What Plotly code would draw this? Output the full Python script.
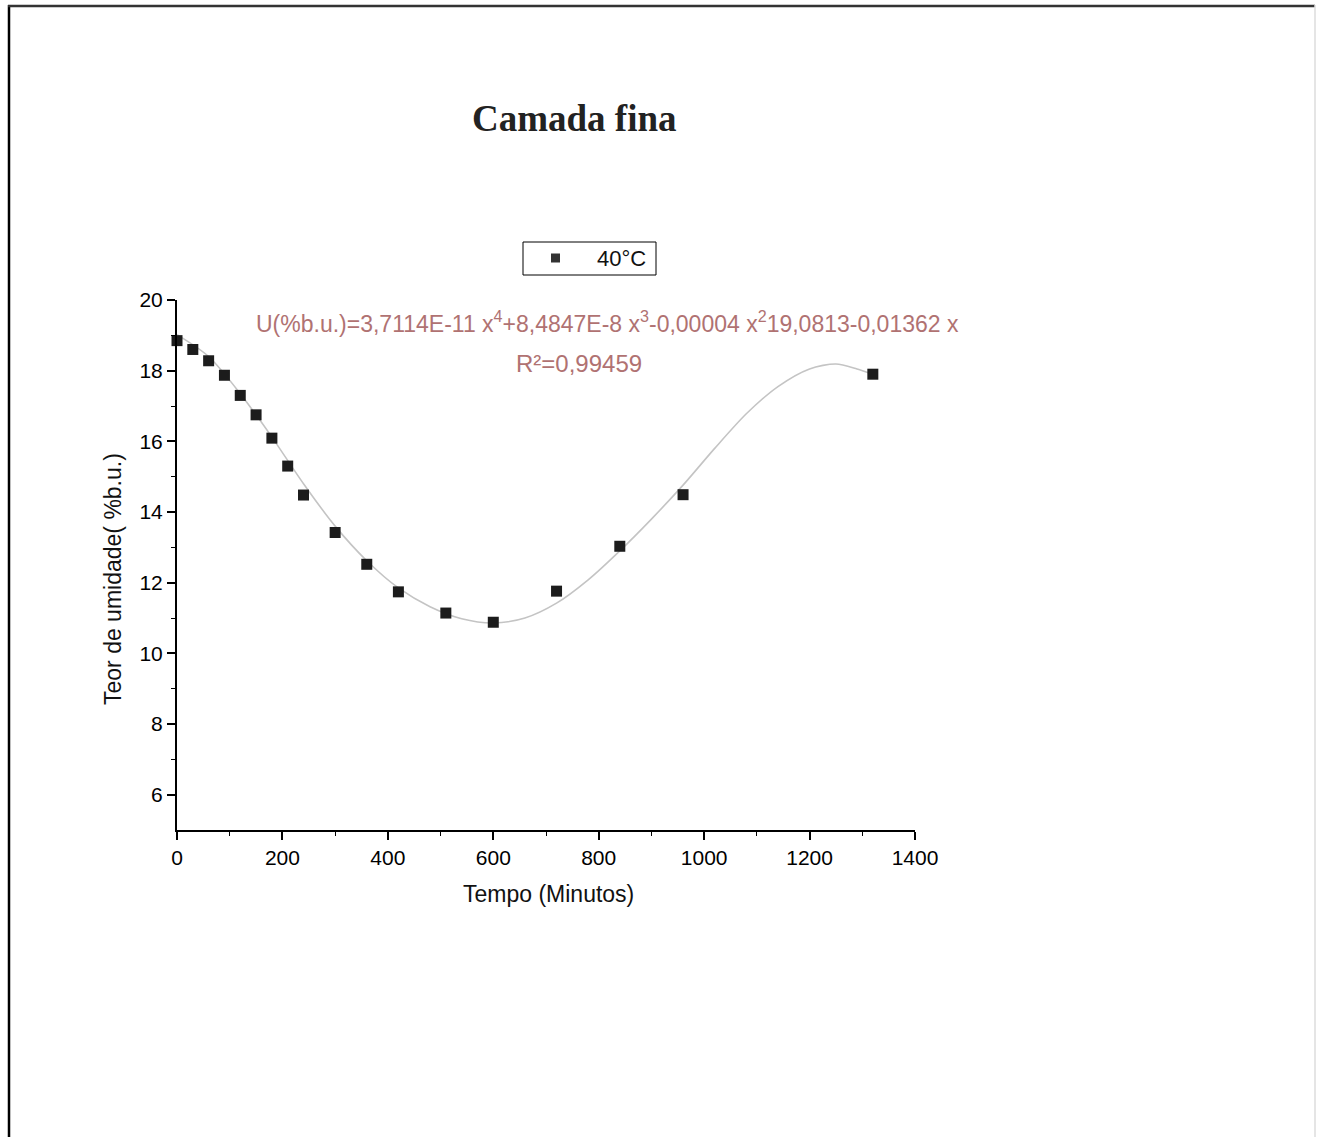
import plotly.graph_objects as go

# Measured data (40°C)
tempo_min = [0, 30, 60, 90, 120, 150, 180, 210, 240, 300, 360, 420, 510, 600, 720, 840, 960, 1320]
teor_umidade = [18.85, 18.60, 18.28, 17.87, 17.30, 16.75, 16.09, 15.30, 14.48, 13.42, 12.52,
                11.74, 11.14, 10.88, 11.76, 13.03, 14.49, 17.90]

# Fitted curve
curva_x = [0, 60, 120, 180, 240, 300, 360, 420, 480, 540, 600, 660, 720, 780, 840, 900, 960,
           1020, 1080, 1140, 1200, 1250, 1290, 1320]
curva_y = [19.02, 18.40, 17.35, 16.12, 14.80, 13.60, 12.62, 11.85, 11.32, 10.98, 10.86, 11.00,
           11.42, 12.08, 12.90, 13.80, 14.76, 15.80, 16.78, 17.55, 18.05, 18.19, 18.05, 17.90]

x_ticks = [0, 200, 400, 600, 800, 1000, 1200, 1400]
y_ticks = [6, 8, 10, 12, 14, 16, 18, 20]
legend_label = "40°C"

W, H = 1317, 1137
L, R, T, B = 177, 915, 300, 830


def px(xp):
    return (xp - L) / (R - L)


def py(yp):
    return (B - yp) / (B - T)


fig = go.Figure()
fig.add_trace(go.Scatter(
    x=curva_x, y=curva_y, mode="lines",
    line=dict(color="#c4c4c4", width=1.6, shape="spline", smoothing=0.8),
    showlegend=False, hoverinfo="skip", cliponaxis=False,
))
fig.add_trace(go.Scatter(
    x=tempo_min, y=teor_umidade, mode="markers", name=legend_label,
    marker=dict(symbol="square", size=11, color="#1c1c1c"), cliponaxis=False,
    showlegend=False,
))

SANS = "Liberation Sans, Arial, sans-serif"
axis_font = dict(family=SANS, size=21, color="#000")
fig.update_xaxes(
    range=[0, 1400], tickvals=x_ticks, ticktext=[str(v) for v in x_ticks],
    showline=True, linecolor="black", linewidth=2, showgrid=False, zeroline=False,
    ticks="outside", ticklen=8, tickwidth=1.5, tickcolor="black", tickfont=axis_font,
    minor=dict(tickvals=[100, 300, 500, 700, 900, 1100, 1300], ticks="outside", ticklen=4,
               tickwidth=1.2, tickcolor="black"),
)
fig.update_yaxes(
    range=[5, 20], tickvals=y_ticks, ticktext=[str(v) for v in y_ticks],
    showline=True, linecolor="black", linewidth=2, showgrid=False, zeroline=False,
    ticks="outside", ticklen=8, tickwidth=1.5, tickcolor="black", tickfont=axis_font,
    minor=dict(tickvals=[7, 9, 11, 13, 15, 17, 19], ticks="outside", ticklen=4,
               tickwidth=1.2, tickcolor="black"),
)

eq_color = "#b07272"


def ann(text, xp, yp, size, color="#111", family=SANS, angle=0):
    return dict(text=text, x=px(xp), y=py(yp), xref="paper", yref="paper", showarrow=False,
                xanchor="center", yanchor="middle", textangle=angle,
                font=dict(family=family, size=size, color=color))


annotations = [
    ann("<b>Camada fina</b>", 574, 119, 37, "#222", "Liberation Serif, Times New Roman, serif"),
    ann("U(%b.u.)=3,7114E-11 x<sup>4</sup>+8,4847E-8 x<sup>3</sup>-0,00004 x<sup>2</sup>19,0813-0,01362 x",
        607, 322, 23, eq_color),
    ann("R²=0,99459", 579, 363, 24, eq_color),
    ann("Tempo (Minutos)", 548, 894, 23),
    ann("Teor de umidade( %b.u.)", 113, 579, 23, angle=-90),
    ann(legend_label, 621, 258, 22),
]

shapes = [
    # page frame
    dict(type="line", xref="paper", yref="paper", x0=px(9), x1=px(9), y0=py(5), y1=py(1137),
         line=dict(color="black", width=2.5)),
    dict(type="line", xref="paper", yref="paper", x0=px(8), x1=px(1315), y0=py(6), y1=py(6),
         line=dict(color="#333", width=2.5)),
    dict(type="line", xref="paper", yref="paper", x0=px(1315), x1=px(1315), y0=py(5), y1=py(1137),
         line=dict(color="#dddddd", width=1.5)),
    # legend box and symbol
    dict(type="rect", xref="paper", yref="paper", x0=px(523), x1=px(656), y0=py(275), y1=py(242),
         line=dict(color="black", width=1), fillcolor="white"),
    dict(type="rect", xref="paper", yref="paper", x0=px(551), x1=px(560), y0=py(262.5), y1=py(253.5),
         line=dict(width=0), fillcolor="#333333"),
]

fig.update_layout(
    width=W, height=H,
    margin=dict(l=L, r=W - R, t=T, b=H - B, autoexpand=False),
    paper_bgcolor="white", plot_bgcolor="white",
    annotations=annotations, shapes=shapes,
    showlegend=False,
)

fig.write_html("out.html")
